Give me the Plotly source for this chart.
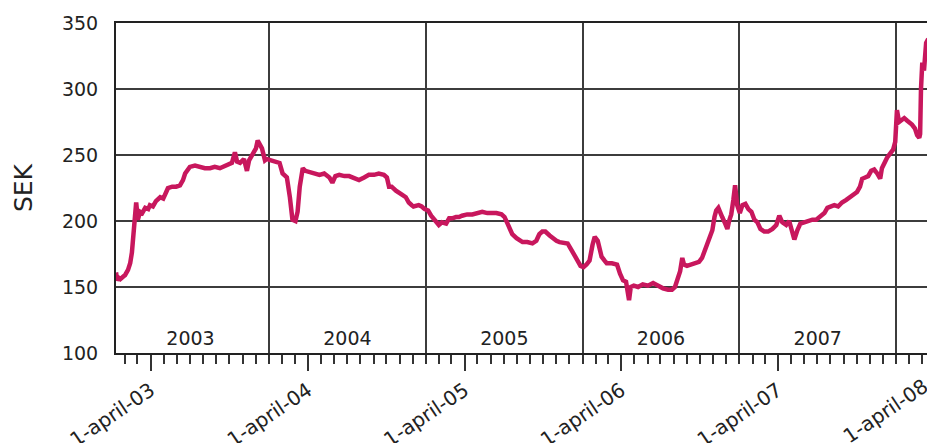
import plotly.graph_objects as go
import pandas as pd

dates_2003 = ["2003-01-10", "2003-01-13", "2003-01-16", "2003-01-20", "2003-01-27", "2003-01-31",
              "2003-02-07", "2003-02-12", "2003-02-16", "2003-02-19", "2003-02-23", "2003-02-26",
              "2003-03-02", "2003-03-07", "2003-03-12", "2003-03-19", "2003-03-26", "2003-03-30",
              "2003-04-06", "2003-04-13", "2003-04-23", "2003-04-30", "2003-05-07", "2003-05-11",
              "2003-05-21", "2003-05-30", "2003-06-08", "2003-06-15", "2003-06-20", "2003-06-27",
              "2003-07-01", "2003-07-13", "2003-07-25", "2003-08-05", "2003-08-17", "2003-08-28",
              "2003-09-09", "2003-09-16", "2003-09-28", "2003-10-07", "2003-10-14", "2003-10-19",
              "2003-10-26", "2003-11-04", "2003-11-11", "2003-11-16", "2003-11-25", "2003-12-02",
              "2003-12-06", "2003-12-11", "2003-12-16", "2003-12-23", "2003-12-27"]
sek_2003 = [161, 155, 157, 156, 158, 159,
            163, 168, 176, 188, 206, 214,
            201, 207, 206, 210, 209, 212,
            211, 215, 218, 217, 222, 225,
            226, 226, 227, 231, 236, 240,
            241, 242, 241, 240, 240, 241,
            240, 241, 242, 244, 252, 245,
            244, 247, 238, 246, 251, 255,
            261, 257, 255, 246, 247]

dates_2004 = ["2004-01-06", "2004-01-15", "2004-01-26", "2004-02-02", "2004-02-12", "2004-02-19",
              "2004-02-25", "2004-03-03", "2004-03-08", "2004-03-13", "2004-03-20", "2004-03-26",
              "2004-04-05", "2004-04-16", "2004-04-28", "2004-05-09", "2004-05-21", "2004-05-28",
              "2004-06-04", "2004-06-13", "2004-06-25", "2004-07-06", "2004-07-18", "2004-07-29",
              "2004-08-10", "2004-08-21", "2004-09-02", "2004-09-13", "2004-09-25", "2004-10-02",
              "2004-10-07", "2004-10-13", "2004-10-23", "2004-10-30", "2004-11-06", "2004-11-15",
              "2004-11-22", "2004-11-29", "2004-12-03", "2004-12-15", "2004-12-22", "2004-12-29"]
sek_2004 = [246, 245, 244, 236, 233, 218,
            201, 200, 207, 226, 240, 238,
            237, 236, 235, 236, 233, 229,
            234, 235, 234, 234, 232, 231,
            233, 235, 235, 236, 235, 233,
            226, 226, 223, 221, 220, 218,
            214, 212, 211, 212, 211, 209]

dates_2005 = ["2005-01-06", "2005-01-13", "2005-01-20", "2005-01-27", "2005-01-31", "2005-02-07",
              "2005-02-17", "2005-02-24", "2005-03-03", "2005-03-12", "2005-03-19", "2005-03-26",
              "2005-04-07", "2005-04-19", "2005-04-30", "2005-05-12", "2005-05-24", "2005-06-04",
              "2005-06-14", "2005-06-26", "2005-07-03", "2005-07-10", "2005-07-14", "2005-07-21",
              "2005-07-31", "2005-08-07", "2005-08-14", "2005-08-25", "2005-09-06", "2005-09-15",
              "2005-09-22", "2005-09-29", "2005-10-06", "2005-10-16", "2005-10-23", "2005-11-01",
              "2005-11-08", "2005-11-20", "2005-11-27", "2005-12-06", "2005-12-13", "2005-12-20",
              "2005-12-27"]
sek_2005 = [208, 204, 201, 198, 197, 199,
            198, 202, 202, 203, 203, 204,
            205, 205, 206, 207, 206, 206,
            206, 205, 203, 198, 195, 190,
            187, 185, 184, 184, 183, 185,
            190, 192, 192, 189, 187, 185,
            184, 183, 183, 178, 173, 170,
            166]

dates_2006 = ["2006-01-03", "2006-01-10", "2006-01-17", "2006-01-24", "2006-01-29", "2006-02-05",
              "2006-02-10", "2006-02-14", "2006-02-21", "2006-02-26", "2006-03-10", "2006-03-22",
              "2006-03-29", "2006-04-05", "2006-04-12", "2006-04-16", "2006-04-19", "2006-04-23",
              "2006-04-30", "2006-05-10", "2006-05-21", "2006-06-02", "2006-06-14", "2006-06-26",
              "2006-07-07", "2006-07-19", "2006-07-28", "2006-08-04", "2006-08-09", "2006-08-16",
              "2006-08-21", "2006-08-25", "2006-09-01", "2006-09-11", "2006-09-20", "2006-09-29",
              "2006-10-06", "2006-10-13", "2006-10-18", "2006-10-25", "2006-10-30", "2006-11-04",
              "2006-11-08", "2006-11-13", "2006-11-17", "2006-11-22", "2006-11-29", "2006-12-04",
              "2006-12-08", "2006-12-13", "2006-12-18", "2006-12-22", "2006-12-27"]
sek_2006 = [165, 167, 170, 182, 188, 185,
            178, 173, 170, 168, 168, 167,
            160, 155, 154, 145, 140, 150,
            151, 150, 152, 151, 153, 151,
            149, 148, 148, 150, 155, 162,
            172, 167, 166, 167, 168, 169,
            172, 178, 183, 188, 193, 203,
            208, 210, 206, 203, 198, 194,
            200, 205, 216, 227, 212]

dates_2007 = ["2007-01-02", "2007-01-08", "2007-01-15", "2007-01-22", "2007-01-29", "2007-02-05",
              "2007-02-12", "2007-02-19", "2007-02-28", "2007-03-09", "2007-03-19", "2007-03-28",
              "2007-04-04", "2007-04-11", "2007-04-20", "2007-04-27", "2007-05-04", "2007-05-09",
              "2007-05-16", "2007-05-23", "2007-06-01", "2007-06-10", "2007-06-20", "2007-06-29",
              "2007-07-08", "2007-07-18", "2007-07-25", "2007-08-03", "2007-08-10", "2007-08-19",
              "2007-08-28", "2007-09-07", "2007-09-16", "2007-09-25", "2007-10-02", "2007-10-09",
              "2007-10-14", "2007-10-21", "2007-10-28", "2007-11-04", "2007-11-11", "2007-11-18",
              "2007-11-25", "2007-11-29", "2007-12-04", "2007-12-11", "2007-12-18", "2007-12-25",
              "2007-12-30"]
sek_2007 = [206, 212, 213, 209, 207, 201,
            199, 194, 192, 192, 194, 197,
            204, 199, 197, 200, 193, 186,
            193, 198, 199, 200, 201, 201,
            203, 206, 210, 211, 212, 211,
            214, 216, 218, 220, 222, 226,
            232, 233, 234, 238, 239, 236,
            232, 240, 244, 248, 251, 254,
            260]

dates_2008 = ["2008-01-03", "2008-01-08", "2008-01-13", "2008-01-20", "2008-01-27", "2008-01-31",
              "2008-02-07", "2008-02-14", "2008-02-19", "2008-02-24", "2008-02-26", "2008-02-28",
              "2008-03-02", "2008-03-06", "2008-03-09", "2008-03-11", "2008-03-16"]
sek_2008 = [284, 275, 276, 278, 276, 275,
            273, 270, 265, 263, 266, 300,
            320, 314, 325, 335, 338]

april_ticks = ["2003-04-01", "2004-04-01", "2005-04-01", "2006-04-01", "2007-04-01"]
april_labels = ["1-april-03", "1-april-04", "1-april-05", "1-april-06", "1-april-07"]
cut_tick = "2008-04-01"
cut_label = "1-april-08"
x_range = ["2003-01-10", "2008-03-13"]
y_ticks = [100, 150, 200, 250, 300, 350]

dates = dates_2003 + dates_2004 + dates_2005 + dates_2006 + dates_2007 + dates_2008
sek = sek_2003 + sek_2004 + sek_2005 + sek_2006 + sek_2007 + sek_2008

FONT = "DejaVu Sans"
TXT = "#222222"
GRID = "#3c3c3c"
DATEANGLE = -34
DATESIZE = 20
TICKSIZE = 19

fig = go.Figure()
# helper (transparent) trace so the overlaid year axis gets drawn
fig.add_trace(go.Scatter(x=dates, y=sek, mode="lines", xaxis="x2", yaxis="y",
                         line=dict(color="rgba(0,0,0,0)", width=1),
                         hoverinfo="skip", showlegend=False))
fig.add_trace(go.Scatter(x=dates, y=sek, mode="lines", xaxis="x", yaxis="y",
                         line=dict(color="#c8175d", width=4.5),
                         hoverinfo="skip", showlegend=False))

fig.update_layout(
    width=927, height=443,
    margin=dict(l=116, r=0, t=23, b=90),
    paper_bgcolor="white", plot_bgcolor="white",
    font=dict(family=FONT, color=TXT),
    showlegend=False,
    xaxis=dict(
        type="date", range=x_range, automargin=False,
        tickvals=april_ticks, ticktext=april_labels,
        tickangle=DATEANGLE, tickfont=dict(family=FONT, size=DATESIZE, color=TXT),
        ticks="outside", ticklen=16, tickwidth=2, tickcolor="#333333",
        showgrid=False, zeroline=False,
        showline=True, linecolor="#222222", linewidth=2, mirror=True,
        minor=dict(dtick="M1", tick0="2003-01-01", ticks="outside", ticklen=9,
                   tickwidth=2, tickcolor="#333333", showgrid=False),
    ),
    xaxis2=dict(
        type="date", range=x_range, overlaying="x", side="bottom",
        anchor="free", position=0.085,
        automargin=False,
        dtick="M12", tick0="2003-01-01", tickformat="%Y", ticklabelmode="period",
        ticks="",
        tickfont=dict(family=FONT, size=TICKSIZE, color=TXT),
        showgrid=True, gridcolor=GRID, gridwidth=1.8,
        showline=False, zeroline=False,
    ),
    yaxis=dict(
        range=[100, 350], tickvals=y_ticks, automargin=False,
        tickfont=dict(family=FONT, size=TICKSIZE, color=TXT),
        ticks="", ticklabelstandoff=12,
        showgrid=True, gridcolor=GRID, gridwidth=1.8,
        showline=True, linecolor="#222222", linewidth=2, zeroline=False,
        title=dict(text="SEK", font=dict(family=FONT, size=25, color=TXT), standoff=22),
    ),
)

# the last April label lies beyond the visible end of the axis (cut by the frame)
t0, t1 = pd.Timestamp(x_range[0]), pd.Timestamp(x_range[1])
cut_frac = (pd.Timestamp(cut_tick) - t0) / (t1 - t0)
fig.add_annotation(x=cut_frac, y=0, xref="paper", yref="paper", text=cut_label,
                   textangle=DATEANGLE, showarrow=False, xanchor="right", yanchor="top",
                   yshift=-18, font=dict(family=FONT, size=DATESIZE, color=TXT))

# page without the default body margin so the figure fills the window exactly
fig.write_html("out.html", config={"displayModeBar": False},
               post_script="document.body.style.margin='0px';document.body.style.overflow='hidden';")
